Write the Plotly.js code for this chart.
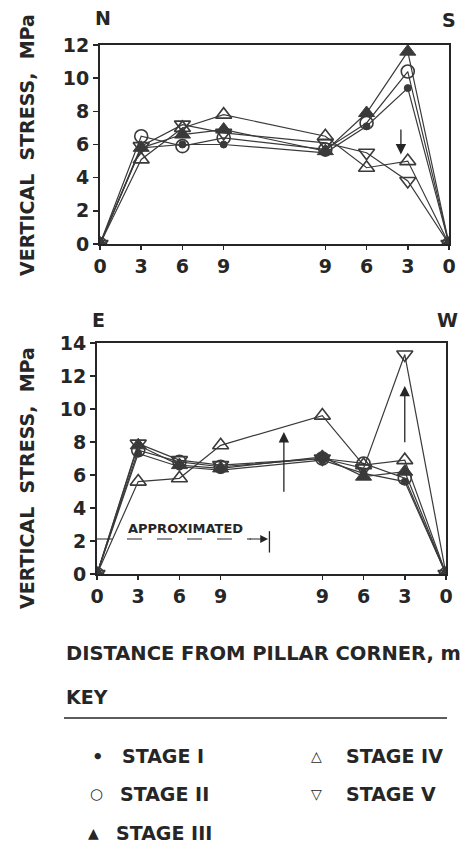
<!DOCTYPE html>
<html>
<head>
<meta charset="utf-8">
<script src="https://cdn.plot.ly/plotly-3.0.1.min.js"></script>
<style>html,body{margin:0;padding:0;background:#fff;}#chart{width:468px;height:853px;}</style>
</head>
<body>
<div id="chart"></div>
<script>
// Distance positions along the traverse (0..9 from one corner, 9..0 from the other)
const xPos = [0, 3, 6, 9, 16.4, 19.4, 22.4, 25.4];
const xTickText = ['0', '3', '6', '9', '9', '6', '3', '0'];
const yTicksNS = [0, 2, 4, 6, 8, 10, 12];
const yTicksEW = [0, 2, 4, 6, 8, 10, 12, 14];

const stages = ['STAGE I', 'STAGE II', 'STAGE III', 'STAGE IV', 'STAGE V'];

// N-S traverse (top panel), MPa
const nsStage1 = [0, 5.8, 6.0, 6.0, 5.5, 7.1, 9.4, 0];
const nsStage2 = [0, 6.5, 5.9, 6.4, 5.7, 7.3, 10.4, 0];
const nsStage3 = [0, 5.8, 6.6, 6.9, 5.6, 7.9, 11.6, 0];
const nsStage4 = [0, 5.1, 7.0, 7.8, 6.5, 4.6, 5.0, 0];
const nsStage5 = [0, 5.9, 7.2, 6.7, 6.1, 5.5, 3.8, 0];

// E-W traverse (bottom panel), MPa
const ewStage1 = [0, 7.3, 6.5, 6.3, 6.9, 6.1, 5.6, 0];
const ewStage2 = [0, 7.5, 6.8, 6.5, 7.0, 6.7, 5.8, 0];
const ewStage3 = [0, 7.8, 6.6, 6.4, 7.1, 5.9, 6.2, 0];
const ewStage4 = [0, 5.6, 5.8, 7.8, 9.6, 6.6, 6.9, 0];
const ewStage5 = [0, 7.9, 6.9, 6.6, 7.0, 6.4, 13.3, 0];

const FONT = 'DejaVu Sans, Liberation Sans, Arial, sans-serif';
const INK = '#262626';
const LINE = '#3a3a3a';
const f = (size) => ({family: FONT, size: size, color: INK, weight: 'bold'});
const b = s => '<b>' + s + '</b>';

const markerStyles = [
  {symbol: 'circle', size: 7, color: LINE, line: {color: LINE, width: 1}},
  {symbol: 'circle-open', size: 13, color: LINE, line: {color: LINE, width: 1.6}},
  {symbol: 'triangle-up', size: 14, color: LINE, line: {color: LINE, width: 1}},
  {symbol: 'triangle-up-open', size: 14, color: LINE, line: {color: LINE, width: 1.6}},
  {symbol: 'triangle-down-open', size: 14, color: LINE, line: {color: LINE, width: 1.6}}
];

const nsData = [nsStage1, nsStage2, nsStage3, nsStage4, nsStage5];
const ewData = [ewStage1, ewStage2, ewStage3, ewStage4, ewStage5];

const traces = [];
nsData.forEach((ys, i) => traces.push({
  x: xPos, y: ys, name: stages[i], xaxis: 'x', yaxis: 'y', type: 'scatter',
  mode: 'lines+markers', line: {color: LINE, width: 1.2}, marker: markerStyles[i], showlegend: false
}));
ewData.forEach((ys, i) => traces.push({
  x: xPos, y: ys, name: stages[i], xaxis: 'x2', yaxis: 'y2', type: 'scatter',
  mode: 'lines+markers', line: {color: LINE, width: 1.2}, marker: markerStyles[i], showlegend: false
}));

const W = 468, H = 853;
const px = v => v / W;
const py = v => 1 - v / H;

function axisX(domain, anchor) {
  return {
    domain: domain, anchor: anchor, range: [0, 25.4], tickmode: 'array', tickvals: xPos, ticktext: xTickText.map(b),
    ticks: 'outside', ticklen: 4, tickwidth: 1.5, tickcolor: INK, showgrid: false, zeroline: false,
    showline: true, linecolor: INK, linewidth: 2, mirror: true,
    tickfont: f(19)
  };
}
function axisY(domain, anchor, ticks) {
  return {
    domain: domain, anchor: anchor, range: [0, ticks[ticks.length - 1]],
    tickmode: 'array', tickvals: ticks, ticktext: ticks.map(t => b(String(t))),
    ticks: 'outside', ticklen: 5, tickwidth: 1.5, tickcolor: INK, showgrid: false, zeroline: false,
    showline: true, linecolor: INK, linewidth: 2, mirror: true,
    tickfont: f(19)
  };
}

const txt = (text, x, y, opts) => Object.assign({
  text: text, x: x, y: y, xref: 'paper', yref: 'paper', showarrow: false,
  font: f(19), xanchor: 'left', yanchor: 'middle'
}, opts || {});

const annotations = [
  txt('N', px(93), py(18)),
  txt('S', px(440), py(20)),
  txt('E', px(90), py(320)),
  txt('W', px(435), py(320)),
  txt('VERTICAL  STRESS,  MPa', px(27), py(145), {textangle: -90, xanchor: 'center'}),
  txt('VERTICAL  STRESS,  MPa', px(27), py(478), {textangle: -90, xanchor: 'center'}),
  txt('DISTANCE FROM PILLAR CORNER, m', px(64), py(653), {font: f(19.5)}),
  txt('KEY', px(64), py(697)),
  txt('\u2022', px(90), py(756), {font: f(18)}),
  txt('STAGE I', px(120), py(756)),
  txt('\u25CB', px(88), py(794), {font: {family: FONT, size: 15, color: INK}}),
  txt('STAGE II', px(118), py(794)),
  txt('\u25B2', px(86), py(833), {font: {family: FONT, size: 14, color: INK}}),
  txt('STAGE III', px(114), py(833)),
  txt('\u25B3', px(309), py(756), {font: {family: FONT, size: 14, color: INK}}),
  txt('STAGE IV', px(344), py(756)),
  txt('\u25BD', px(309), py(794), {font: {family: FONT, size: 14, color: INK}}),
  txt('STAGE V', px(344), py(794)),
  // arrows inside panels
  {x: 21.9, y: 5.4, ax: 21.9, ay: 7.0, xref: 'x', yref: 'y', axref: 'x', ayref: 'y', showarrow: true,
   arrowhead: 2, arrowsize: 1.6, arrowwidth: 1.3, arrowcolor: INK, text: ''},
  {x: 13.6, y: 8.6, ax: 13.6, ay: 4.9, xref: 'x2', yref: 'y2', axref: 'x2', ayref: 'y2', showarrow: true,
   arrowhead: 2, arrowsize: 1.6, arrowwidth: 1.3, arrowcolor: INK, text: ''},
  {x: 22.4, y: 11.4, ax: 22.4, ay: 7.9, xref: 'x2', yref: 'y2', axref: 'x2', ayref: 'y2', showarrow: true,
   arrowhead: 2, arrowsize: 1.6, arrowwidth: 1.3, arrowcolor: INK, text: ''},
  {x: 12.45, y: 2.12, ax: 11.0, ay: 2.12, xref: 'x2', yref: 'y2', axref: 'x2', ayref: 'y2', showarrow: true,
   arrowhead: 2, arrowsize: 1.3, arrowwidth: 1.2, arrowcolor: INK, text: ''},
  {text: 'APPROXIMATED', x: 6.45, y: 2.75, xref: 'x2', yref: 'y2', showarrow: false, font: f(13)}
];

const shapes = [
  {type: 'line', xref: 'x2', yref: 'y2', x0: 0, x1: 11.2, y0: 2.12, y1: 2.12,
   line: {color: INK, width: 1.2, dash: 'longdash'}},
  {type: 'line', xref: 'x2', yref: 'y2', x0: 12.55, x1: 12.55, y0: 1.3, y1: 2.6,
   line: {color: INK, width: 1.3}},
  {type: 'line', xref: 'paper', yref: 'paper', x0: px(64), x1: px(447), y0: py(718), y1: py(718),
   line: {color: INK, width: 1.5}}
];

const layout = {
  width: W, height: H, margin: {l: 0, r: 0, t: 0, b: 0},
  paper_bgcolor: '#ffffff', plot_bgcolor: '#ffffff', showlegend: false,
  xaxis: axisX([px(100), px(449)], 'y'),
  yaxis: axisY([py(244), py(45)], 'x', yTicksNS),
  xaxis2: axisX([px(97), px(446)], 'y2'),
  yaxis2: axisY([py(574), py(343)], 'x2', yTicksEW),
  annotations: annotations, shapes: shapes
};

Plotly.newPlot('chart', traces, layout, {staticPlot: true, displayModeBar: false});
</script>
</body>
</html>
